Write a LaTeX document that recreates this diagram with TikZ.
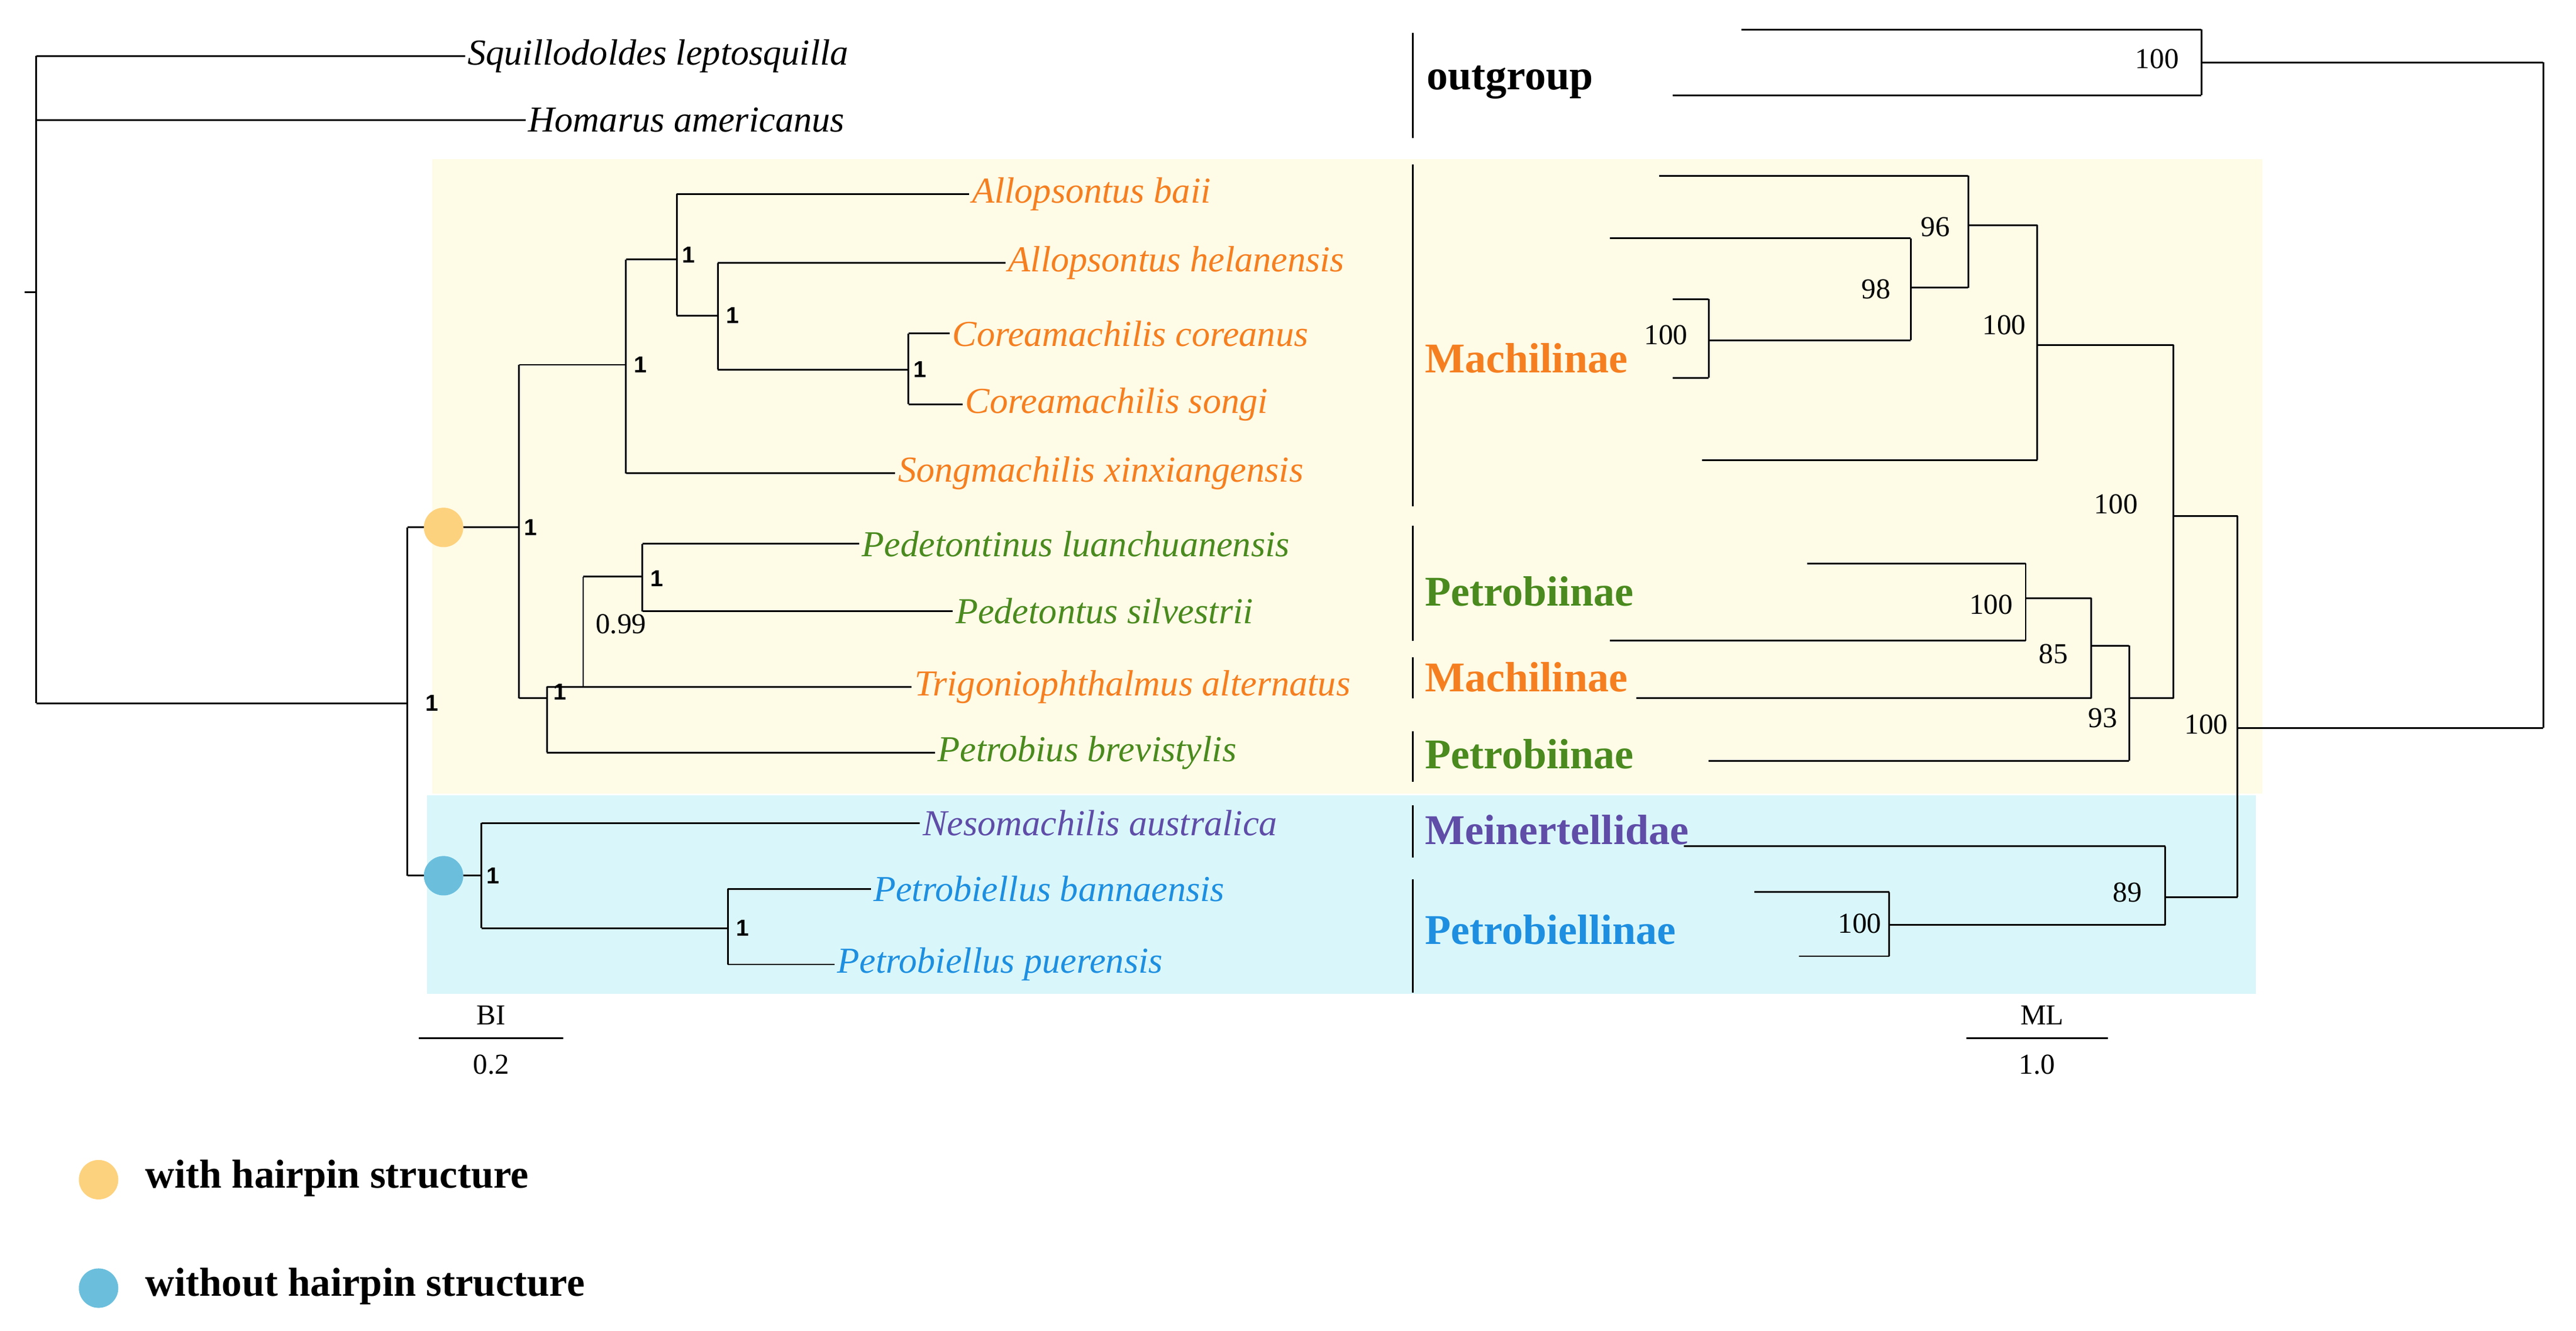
\documentclass[tikz,border=0pt]{standalone}
\usepackage{fontspec}
\setmainfont{Liberation Serif}
\newfontfamily\sfx{Liberation Sans}
\definecolor{orn}{HTML}{F57F20}
\definecolor{grn}{HTML}{4A8A1E}
\definecolor{pur}{HTML}{5F4DA8}
\definecolor{blu}{HTML}{1E8FE0}
\definecolor{ybg}{HTML}{FEFBE6}
\definecolor{bbg}{HTML}{D9F7FB}
\definecolor{ycirc}{HTML}{FDD27E}
\definecolor{bcirc}{HTML}{6BBFDD}
\begin{document}
\begin{tikzpicture}[x=0.03cm,y=-0.03cm,line width=0.9pt,
 sp/.style={anchor=west,inner sep=1pt,font=\fontsize{19}{22}\selectfont\itshape},
 bi/.style={inner sep=0pt,font=\fontsize{12}{14}\selectfont\sfx\bfseries},
 ml/.style={inner sep=0pt,font=\fontsize{15}{17}\selectfont},
 grp/.style={anchor=west,inner sep=0pt,font=\fontsize{22}{26}\selectfont\bfseries},
 lg/.style={anchor=west,inner sep=0pt,font=\fontsize{21}{25}\selectfont\bfseries}]
\useasboundingbox (0,0) rectangle (1568,810);
\fill[ybg] (263,97) rectangle (1377,483);
\fill[bbg] (260,484) rectangle (1373,605);
% left tree
\draw (15,178)--(22,178);
\draw (22,34)--(22,428);
\draw (22,34)--(283,34) node[sp] (s1) {Squillodoldes leptosquilla};
\draw (22,73)--(320,73) node[sp] (s2) {Homarus americanus};
\draw (22,428)--(248,428) (248,321)--(248,533);
\node[bi] at (263,428) {1};
\draw (248,321)--(316,321) (316,222)--(316,425);
\node[bi] at (323,321) {1};
\draw (316,222)--(381,222) (381,158)--(381,288);
\node[bi] at (390,222) {1};
\draw (381,288)--(545,288) node[sp,text=orn] (t5) {Songmachilis xinxiangensis};
\draw (381,158)--(412,158) (412,118)--(412,192);
\node[bi] at (419,155) {1};
\draw (412,118)--(590,118) node[sp,text=orn] (t1) {Allopsontus baii};
\draw (412,192)--(437,192) (437,160)--(437,225);
\node[bi] at (446,192) {1};
\draw (437,160)--(612,160) node[sp,text=orn] (t2) {Allopsontus helanensis};
\draw (437,225)--(553,225) (553,203)--(553,246);
\node[bi] at (560,225) {1};
\draw (553,203)--(578,203) node[sp,text=orn] (t3) {Coreamachilis coreanus};
\draw (553,246)--(586,246) node[sp,text=orn] (t4) {Coreamachilis songi};
\draw (316,425)--(333,425) (333,418)--(333,458);
\node[bi] at (341,421) {1};
\draw (333,458)--(569,458) node[sp,text=grn] (t9) {Petrobius brevistylis};
\draw (333,418)--(355,418) (355,351)--(355,418);
\node[ml] at (378,380) {0.99};
\draw (355,418)--(555,418) node[sp,text=orn] (t8) {Trigoniophthalmus alternatus};
\draw (355,351)--(391,351) (391,331)--(391,372);
\node[bi] at (400,352) {1};
\draw (391,331)--(523,331) node[sp,text=grn] (t6) {Pedetontinus luanchuanensis};
\draw (391,372)--(580,372) node[sp,text=grn] (t7) {Pedetontus silvestrii};
\draw (248,533)--(293,533) (293,501)--(293,565);
\node[bi] at (300,533) {1};
\draw (293,501)--(560,501) node[sp,text=pur] (t10) {Nesomachilis australica};
\draw (293,565)--(443,565) (443,541)--(443,587);
\node[bi] at (452,565) {1};
\draw (443,541)--(530,541) node[sp,text=blu] (t11) {Petrobiellus bannaensis};
\draw (443,587)--(508,587) node[sp,text=blu] (t12) {Petrobiellus puerensis};
\fill[ycirc] (270,321) circle (12);
\fill[bcirc] (270,533) circle (12);
% separators
\foreach \a/\b in {20/84,100/308,320/390,400/425,445/476,490/522,535/604} \draw (860,\a)--(860,\b);
\node[grp] (g1) at (868,50) {outgroup};
\node[grp,text=orn] (g2) at (867,218) {Machilinae};
\node[grp,text=grn] (g3) at (867,360) {Petrobiinae};
\node[grp,text=orn] (g4) at (867,412) {Machilinae};
\node[grp,text=grn] (g5) at (867,459) {Petrobiinae};
\node[grp,text=pur] (g6) at (867,505) {Meinertellidae};
\node[grp,text=blu] (g7) at (867,566) {Petrobiellinae};
% right tree
\draw (1060,18)--(1340,18) (1018,58)--(1340,58) (1340,18)--(1340,58) (1340,38)--(1548,38) (1548,38)--(1548,443) (1362,443)--(1548,443);
\node[ml] at (1313,36) {100};
\node[ml] at (1343,441) {100};
\draw (1362,314)--(1362,546) (1323,314)--(1362,314) (1318,546)--(1362,546);
\draw (1323,210)--(1323,425) (1240,210)--(1323,210) (1296,425)--(1323,425);
\node[ml] at (1288,307) {100};
\draw (1240,137)--(1240,280) (1198,137)--(1240,137) (1036,280)--(1240,280);
\node[ml] at (1220,198) {100};
\draw (1198,107)--(1198,175) (1010,107)--(1198,107) (1163,175)--(1198,175);
\node[ml] at (1178,138) {96};
\draw (1163,145)--(1163,207) (980,145)--(1163,145) (1040,207)--(1163,207);
\node[ml] at (1142,176) {98};
\draw (1040,182)--(1040,230) (1018,182)--(1040,182) (1018,230)--(1040,230);
\node[ml] at (1014,204) {100};
\draw (1296,393)--(1296,463) (1040,463)--(1296,463) (1273,393)--(1296,393);
\node[ml] at (1280,437) {93};
\draw (1273,364)--(1273,425) (996,425)--(1273,425) (1233,364)--(1273,364);
\node[ml] at (1250,398) {85};
\draw (1233,343)--(1233,390) (1100,343)--(1233,343) (980,390)--(1233,390);
\node[ml] at (1212,368) {100};
\draw (1318,515)--(1318,563) (1025,515)--(1318,515) (1150,563)--(1318,563);
\node[ml] at (1295,543) {89};
\draw (1150,543)--(1150,582) (1068,543)--(1150,543) (1095,582)--(1150,582);
\node[ml] at (1132,562) {100};
% scale bars
\draw (255,632)--(343,632);
\node[ml] at (299,618) {BI};
\node[ml] at (299,648) {0.2};
\draw (1197,632)--(1283,632);
\node[ml] at (1243,618) {ML};
\node[ml] at (1240,648) {1.0};
% legend
\fill[ycirc] (60,718) circle (12);
\fill[bcirc] (60,784) circle (12);
\node[lg] (l1) at (88,717) {with hairpin structure};
\node[lg] (l2) at (88,783) {without hairpin structure};
\end{tikzpicture}
\end{document}
